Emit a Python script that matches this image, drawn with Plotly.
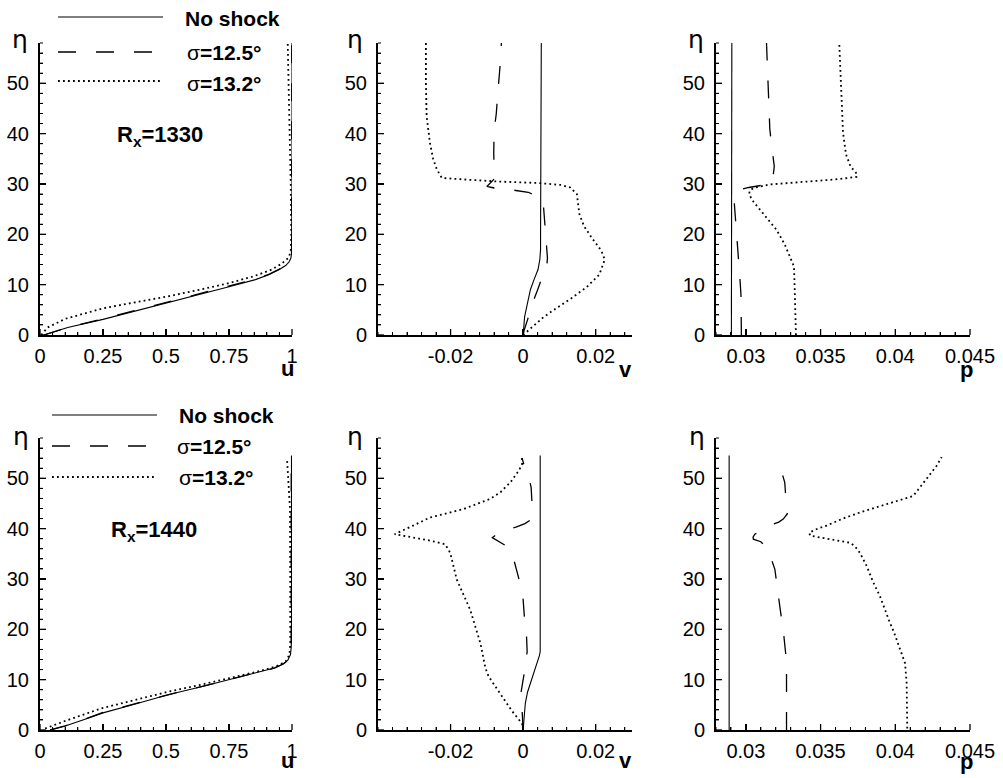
import plotly.graph_objects as go

W, H = 1003, 778

# ---------------- R_x = 1330 ----------------
# u profiles
eta_u1_ns = [0, 0.5, 1.5, 3.1, 4.7, 6.4, 8.0, 9.6, 11.0, 12.0, 13.0, 13.8, 14.5, 15.2, 16.0, 20, 30, 40, 50, 58]
u1_ns     = [0.015, 0.05, 0.11, 0.25, 0.375, 0.5, 0.625, 0.75, 0.855, 0.91, 0.95, 0.975, 0.988, 0.995, 0.998, 0.999, 1.0, 1.0, 1.0, 1.0]
eta_u1_a  = [0, 0.5, 1.5, 3.2, 4.8, 6.5, 8.1, 9.7, 11.1, 12.1, 13.1, 13.9, 14.6, 15.3, 16.1, 20, 30, 40, 50, 58]
u1_a      = [0.015, 0.05, 0.11, 0.25, 0.375, 0.5, 0.625, 0.75, 0.855, 0.91, 0.95, 0.975, 0.988, 0.995, 0.998, 0.999, 0.999, 0.999, 0.999, 0.999]
eta_u1_b  = [0, 1.5, 3.2, 5.3, 6.7, 7.6, 8.9, 10.3, 11.7, 13.0, 14.2, 15.3, 16.5, 20, 30, 40, 50, 58]
u1_b      = [0.005, 0.03, 0.1, 0.25, 0.4, 0.5, 0.625, 0.75, 0.85, 0.92, 0.96, 0.985, 0.995, 0.997, 0.995, 0.99, 0.986, 0.983]

# v profiles
eta_v1_ns = [0, 2, 3.6, 6, 9, 11, 13, 15, 17, 20, 30, 40, 50, 58]
v1_ns     = [0, 0.0002, 0.0004, 0.0011, 0.002, 0.003, 0.0041, 0.0046, 0.0048, 0.0048, 0.0048, 0.0049, 0.0049, 0.005]
eta_v1_a  = [0, 1, 3, 5, 7.3, 9, 11, 12.3, 13.5, 15.3, 18, 22, 25, 26.6, 27.6, 28.35, 28.9, 29.2, 29.5, 30.3, 31.2, 33, 36.2, 40.5, 44, 47.8, 52, 55.8, 58]
v1_a      = [0, 0.0003, 0.0012, 0.002, 0.0031, 0.004, 0.005, 0.0062, 0.0065, 0.0067, 0.0064, 0.0058, 0.0055, 0.0055, 0.0038, 0.0014, -0.0039, -0.008, -0.0100, -0.0088, -0.0077, -0.0080, -0.0081, -0.0080, -0.0074, -0.0070, -0.0065, -0.0061, -0.006]
eta_v1_b  = [0, 1.2, 3.6, 5.5, 7.2, 9.5, 12.0, 15.0, 16.8, 19.2, 21.6, 24, 26.5, 28.0, 29.3, 29.8, 30.2, 30.5, 30.9, 31.2, 32.9, 35, 38.2, 43.5, 50, 58]
v1_b      = [0, 0.002, 0.0057, 0.0095, 0.0131, 0.0175, 0.021, 0.0225, 0.0215, 0.019, 0.0168, 0.0155, 0.015, 0.0148, 0.013, 0.0105, 0.0039, -0.0072, -0.0164, -0.0224, -0.0238, -0.0248, -0.0257, -0.0266, -0.0268, -0.0268]

# p profiles
eta_p1_ns = [0, 10, 20, 30, 40, 50, 58]
p1_ns     = [0.02903, 0.02903, 0.02904, 0.02904, 0.02905, 0.02905, 0.02906]
eta_p1_a  = [0, 4, 8, 11.3, 15.6, 19.6, 23.6, 27.2, 28.3, 28.9, 29.3, 29.7, 30.0, 31, 33.5, 38.2, 41, 45, 49, 53.5, 58]
p1_a      = [0.0297, 0.02969, 0.02967, 0.0296, 0.0295, 0.0294, 0.0293, 0.0292, 0.02925, 0.0296, 0.0302, 0.031, 0.0316, 0.0318, 0.0319, 0.0317, 0.0316, 0.03155, 0.0315, 0.0314, 0.03138]
eta_p1_b  = [0, 4, 8.3, 11, 13.6, 15.6, 18, 20.9, 23, 24.9, 26.5, 27.9, 28.6, 29.2, 29.9, 30.2, 30.5, 30.9, 31.4, 31.9, 33.5, 35.9, 40.2, 46.8, 53.5, 58]
p1_b      = [0.03335, 0.03333, 0.03328, 0.03325, 0.03322, 0.03295, 0.0326, 0.03205, 0.0315, 0.03094, 0.0305, 0.03022, 0.03025, 0.0305, 0.0316, 0.033, 0.0343, 0.036, 0.0374, 0.03746, 0.037, 0.0367, 0.0365, 0.0364, 0.0363, 0.03625]

# ---------------- R_x = 1440 ----------------
eta_u2_ns = [0, 0.8, 2.0, 3.4, 5.1, 7.0, 8.6, 10.3, 11.5, 12.3, 13.1, 13.8, 15.0, 16.5, 20, 30, 40, 50, 54.5]
u2_ns     = [0.04, 0.1, 0.17, 0.25, 0.375, 0.508, 0.64, 0.772, 0.87, 0.93, 0.965, 0.983, 0.994, 0.997, 0.998, 0.998, 0.998, 0.998, 0.998]
eta_u2_a  = [0, 0.8, 2.0, 3.5, 5.2, 7.0, 8.6, 10.3, 11.5, 12.3, 13.1, 13.8, 15.0, 16.5, 20, 30, 40, 50, 54.5]
u2_a      = [0.04, 0.1, 0.17, 0.25, 0.375, 0.508, 0.64, 0.772, 0.87, 0.93, 0.965, 0.983, 0.994, 0.997, 0.997, 0.997, 0.997, 0.997, 0.997]
eta_u2_b  = [0.3, 1.8, 4.3, 6.0, 7.6, 9.0, 10.5, 11.8, 12.7, 13.6, 15.0, 17, 30, 44, 50, 54]
u2_b      = [0.02, 0.1, 0.244, 0.375, 0.508, 0.64, 0.772, 0.88, 0.94, 0.975, 0.99, 0.993, 0.993, 0.992, 0.985, 0.98]

eta_v2_ns = [0, 2, 5.3, 7.5, 9.3, 11.5, 13.3, 14.8, 15.6, 17, 20, 30, 40, 50, 54.5]
v2_ns     = [0, 0.0002, 0.0006, 0.0012, 0.002, 0.003, 0.0039, 0.0045, 0.0047, 0.0047, 0.0047, 0.0047, 0.0047, 0.0047, 0.0047]
eta_v2_a  = [0, 2, 5, 7.6, 10, 12.5, 15.6, 19.3, 21.9, 25.9, 29.3, 31, 33, 35, 36.5, 37.6, 38.2, 38.7, 39.6, 40.3, 41.0, 41.6, 42.5, 44.2, 46, 48.2, 50, 51.2, 52.5, 54]
v2_a      = [0, -0.0002, -0.0004, -0.00055, 0.0, 0.0006, 0.0011, 0.0009, 0.0004, 0.0, -0.0009, -0.0015, -0.0022, -0.003, -0.0045, -0.0072, -0.0085, -0.0076, -0.0058, -0.002, 0.0005, 0.0018, 0.0024, 0.0025, 0.0024, 0.0022, 0.0016, 0.0011, 0.0003, -0.0003]
eta_v2_b  = [0, 1.3, 3.7, 7.6, 10.6, 12.3, 17.3, 23.9, 29.9, 35.2, 36.9, 37.6, 38.4, 38.9, 40.6, 42.2, 43.9, 45.9, 47.2, 49.2, 51.5, 52.8, 54.2]
v2_b      = [0, -0.0003, -0.003, -0.0067, -0.0095, -0.0104, -0.0118, -0.0146, -0.0183, -0.0201, -0.0215, -0.0255, -0.031, -0.0354, -0.0303, -0.0257, -0.0164, -0.0091, -0.0063, -0.0035, -0.0012, -0.0003, -0.0003]

eta_p2_ns = [0, 10, 20, 30, 40, 50, 54.5]
p2_ns     = [0.02888, 0.02888, 0.02888, 0.02888, 0.02888, 0.02888, 0.02888]
eta_p2_a  = [0, 5, 11.3, 15.3, 19.9, 23.9, 29.3, 31.9, 34.9, 36.5, 37.4, 37.9, 38.3, 38.9, 39.5, 39.9, 40.6, 41.3, 41.9, 42.5, 42.9, 45.2, 49.2, 51.2, 53.2]
p2_a      = [0.03272, 0.03272, 0.03272, 0.03266, 0.0325, 0.0323, 0.03205, 0.03194, 0.0316, 0.0313, 0.031, 0.0305, 0.03048, 0.0306, 0.031, 0.03127, 0.0316, 0.0322, 0.0325, 0.0327, 0.03277, 0.0327, 0.0326, 0.0324, 0.03205]
eta_p2_b  = [0.3, 5, 9.3, 13.3, 15.5, 17.3, 19.5, 21.3, 24, 26.6, 29.5, 32.6, 35.2, 36.5, 37.2, 37.6, 38.2, 38.6, 39.2, 40.0, 40.6, 42, 43.2, 44.3, 45.2, 46.5, 48, 49.9, 52.5, 54.2]
p2_b      = [0.0408, 0.04078, 0.04076, 0.04065, 0.0404, 0.0402, 0.0399, 0.03964, 0.0393, 0.03897, 0.0385, 0.03808, 0.03763, 0.0373, 0.03696, 0.0362, 0.0352, 0.0343, 0.03424, 0.0348, 0.0354, 0.0365, 0.03763, 0.0388, 0.03987, 0.0412, 0.0416, 0.0421, 0.04277, 0.0431]

case_labels = ["No shock", "σ=12.5°", "σ=13.2°"]
reynolds = ["1330", "1440"]

# axis ranges, labelled ticks and minor tick spacing
eta_range, eta_major, eta_minor = [0, 58], 10, 2
u_range, u_ticks, u_text, u_minor = [0, 1.0], [0, 0.25, 0.5, 0.75, 1.0], ["0", "0.25", "0.5", "0.75", "1"], 0.05
v_range, v_ticks, v_text, v_minor = [-0.04, 0.03], [-0.02, 0, 0.02], ["-0.02", "0", "0.02"], 0.004
p_range, p_ticks, p_text, p_minor = [0.028, 0.045], [0.03, 0.035, 0.04, 0.045], ["0.03", "0.035", "0.04", "0.045"], 0.001

FONT = "Liberation Sans, Arial, sans-serif"
MAJOR_LEN, MINOR_LEN = 6, 3  # tick lengths in pixels
AXIS_W = 2


def px(x):
    return x / W


def py(y):
    return 1 - y / H


def steps(lo, hi, d):
    # regular tick positions inside [lo, hi]
    out = []
    n = int(round(lo / d))
    while n * d <= hi + 1e-9:
        if n * d >= lo - 1e-9:
            out.append(round(n * d, 6))
        n += 1
    return out


styles = [
    dict(color="black", width=1.1),
    dict(color="black", width=1.3, dash="18px,20px"),
    dict(color="black", width=1.8, dash="1.8px,3.2px"),
]

panels = [
    [(u1_ns, eta_u1_ns), (u1_a, eta_u1_a), (u1_b, eta_u1_b)],
    [(v1_ns, eta_v1_ns), (v1_a, eta_v1_a), (v1_b, eta_v1_b)],
    [(p1_ns, eta_p1_ns), (p1_a, eta_p1_a), (p1_b, eta_p1_b)],
    [(u2_ns, eta_u2_ns), (u2_a, eta_u2_a), (u2_b, eta_u2_b)],
    [(v2_ns, eta_v2_ns), (v2_a, eta_v2_a), (v2_b, eta_v2_b)],
    [(p2_ns, eta_p2_ns), (p2_a, eta_p2_a), (p2_b, eta_p2_b)],
]


def sfx(i):
    return "" if i == 1 else str(i)


col_dom = [(40, 292), (378, 632), (716, 970)]
row_dom = [(43, 335), (438, 730)]
xdefs = [(u_range, u_ticks, u_text, u_minor), (v_range, v_ticks, v_text, v_minor),
         (p_range, p_ticks, p_text, p_minor)]

fig = go.Figure()
for i, series in enumerate(panels, start=1):
    for k, (xv, yv) in enumerate(series):
        fig.add_trace(go.Scatter(x=xv, y=yv, mode="lines", line=styles[k],
                                 xaxis="x" + sfx(i), yaxis="y" + sfx(i),
                                 showlegend=False, hoverinfo="skip"))

TICKFONT = dict(family=FONT, size=20, color="black")
base = dict(showgrid=False, zeroline=False, showline=True, linecolor="black", linewidth=AXIS_W,
            mirror=False, ticks="inside", ticklen=MAJOR_LEN, tickwidth=1.3, tickcolor="black",
            tickfont=TICKFONT)

layout_axes = {}
shapes = []
BLACK = "black"

for r in range(2):
    for c in range(3):
        i = r * 3 + c + 1
        rng, tv, tt, mdt = xdefs[c]
        xd = [px(col_dom[c][0]), px(col_dom[c][1])]
        yd = [py(row_dom[r][1]), py(row_dom[r][0])]
        layout_axes["xaxis" + sfx(i)] = dict(
            base, domain=xd, range=rng, tickmode="array", tickvals=tv, ticktext=tt,
            anchor="y" + sfx(i), ticklabelstandoff=2,
            minor=dict(ticks="inside", ticklen=MINOR_LEN, tickwidth=1, tickcolor="black",
                       tickmode="linear", tick0=0, dtick=mdt, showgrid=False))
        layout_axes["yaxis" + sfx(i)] = dict(
            base, domain=yd, range=eta_range, tickmode="linear", tick0=0, dtick=eta_major,
            anchor="x" + sfx(i), ticklabelstandoff=5,
            minor=dict(ticks="inside", ticklen=MINOR_LEN, tickwidth=1, tickcolor="black",
                       tickmode="linear", tick0=0, dtick=eta_minor, showgrid=False))

        # the same frame as filled strips, placed where the axis lines and ticks fall
        def xmap(t):
            return xd[0] + (t - rng[0]) / (rng[1] - rng[0]) * (xd[1] - xd[0])

        def ymap(t):
            return yd[0] + (t - eta_range[0]) / (eta_range[1] - eta_range[0]) * (yd[1] - yd[0])

        lw, lh = AXIS_W / W, AXIS_W / H
        shapes.append(dict(type="rect", xref="paper", yref="paper", layer="above",
                           x0=xd[0] - lw, x1=xd[1], y0=yd[0] - lh, y1=yd[0],
                           fillcolor=BLACK, line=dict(width=0)))
        shapes.append(dict(type="rect", xref="paper", yref="paper", layer="above",
                           x0=xd[0] - lw, x1=xd[0], y0=yd[0] - lh, y1=yd[1],
                           fillcolor=BLACK, line=dict(width=0)))
        for t in steps(rng[0], rng[1], mdt):
            major = any(abs(t - m) < mdt * 0.01 for m in tv)
            half = (0.65 if major else 0.5) / W
            L = (MAJOR_LEN if major else MINOR_LEN) / H
            shapes.append(dict(type="rect", xref="paper", yref="paper", layer="above",
                               x0=xmap(t) - half, x1=xmap(t) + half, y0=yd[0], y1=yd[0] + L,
                               fillcolor=BLACK, line=dict(width=0)))
        for t in steps(eta_range[0], eta_range[1], eta_minor):
            major = abs(t / eta_major - round(t / eta_major)) < 1e-6
            half = (0.65 if major else 0.5) / H
            L = (MAJOR_LEN if major else MINOR_LEN) / W
            shapes.append(dict(type="rect", xref="paper", yref="paper", layer="above",
                               x0=xd[0], x1=xd[0] + L, y0=ymap(t) - half, y1=ymap(t) + half,
                               fillcolor=BLACK, line=dict(width=0)))

annotations = []


def text(x, y, s, size, xanchor="center", family=FONT):
    annotations.append(dict(xref="paper", yref="paper", x=px(x), y=py(y), text=s,
                            showarrow=False, xanchor=xanchor, yanchor="middle",
                            font=dict(family=family, size=size, color="black")))


# axis titles
for cx, cy in [(20, 40), (355, 40), (696, 40), (21, 436), (355, 436), (697, 436)]:
    text(cx, cy, "η", 25, family="DejaVu Sans, sans-serif")
for cx, cy, s in [(287, 368, "u"), (625, 369, "v"), (966, 369, "p"),
                  (287, 760, "u"), (625, 760, "v"), (966, 761, "p")]:
    text(cx, cy, "<b>%s</b>" % s, 22)

# Reynolds number labels
text(160, 136, "<b>R<sub>x</sub>=%s</b>" % reynolds[0], 22)
text(154, 531, "<b>R<sub>x</sub>=%s</b>" % reynolds[1], 22)

# line keys
key_rows = [
    dict(x0=58, x1=163, ys=[17, 52, 81], tx=[183, 185, 185], ty=[18, 53, 83]),
    dict(x0=52, x1=157, ys=[415, 446, 477], tx=[177, 175, 177], ty=[415, 446, 477]),
]
for kr in key_rows:
    for k in range(3):
        shapes.append(dict(type="line", xref="paper", yref="paper",
                           x0=px(kr["x0"]), x1=px(kr["x1"]), y0=py(kr["ys"][k]), y1=py(kr["ys"][k]),
                           line=styles[k]))
        lab = case_labels[k]
        s = ("σ<b>%s</b>" % lab[1:]) if lab.startswith("σ") else ("<b>%s</b>" % lab)
        text(kr["tx"][k], kr["ty"][k], s, 21, xanchor="left")

fig.update_layout(
    template="none",
    width=W, height=H, autosize=False, margin=dict(l=0, r=0, t=0, b=0),
    paper_bgcolor="white", plot_bgcolor="rgba(0,0,0,0)",
    annotations=annotations, shapes=shapes, **layout_axes)

fig.write_html("out.html", config={"staticPlot": True, "displayModeBar": False})
